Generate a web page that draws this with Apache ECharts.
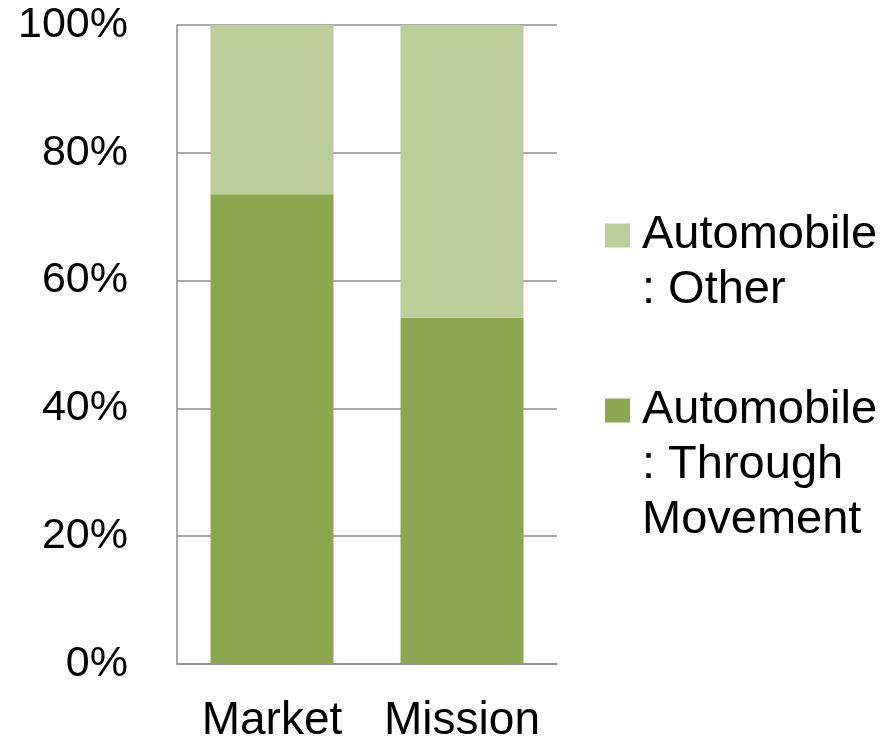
<!DOCTYPE html>
<html>
<head>
<meta charset="utf-8">
<script src="https://cdn.jsdelivr.net/npm/echarts@6/dist/echarts.min.js"></script>
<style>
  html, body { margin: 0; padding: 0; background: #fff; }
  #main { width: 895px; height: 742px; }
</style>
</head>
<body>
<div id="main"></div>
<script>
// data (share of trips, %)
var categories = ['Market', 'Mission']
var throughMovement = [73.5, 54.2]
var other = [26.5, 45.8]
var seriesNames = ['Automobile: Through Movement', 'Automobile: Other']
var legendLines = {
  'Automobile: Other': ['Automobile', ': Other'],
  'Automobile: Through Movement': ['Automobile', ': Through', 'Movement']
}

var FONT = '"Liberation Sans", Arial, sans-serif'
var LINE_H = 55

var myChart = echarts.init(document.getElementById('main'))

// the legend square is centred on the text block, so blank lines are put
// above the text to bring the first line level with the square
function legendFor(name, top) {
  return {
    orient: 'vertical',
    left: 605,
    top: top,
    padding: 0,
    itemWidth: 25,
    itemHeight: 24,
    icon: 'rect',
    selectedMode: false,
    data: [name],
    formatter: function(n) {
      var lines = legendLines[n]
      var out = []
      for (var i = 0; i < lines.length - 1; i++) {
        out.push('{t|\u00a0}')
      }
      lines.forEach(function(l) {
        out.push('{t|' + l + '}')
      })
      return out.join('\n')
    },
    textStyle: {
      fontFamily: FONT,
      fontSize: 47,
      color: '#000',
      rich: {
        t: {
          fontFamily: FONT,
          fontSize: 47,
          lineHeight: LINE_H,
          color: '#000',
          padding: [0, 0, 0, 7]
        }
      }
    }
  }
}

var option = {
  backgroundColor: '#fff',
  animation: false,
  grid: {
    left: 177,
    right: 338,
    top: 25,
    bottom: 78,
    containLabel: false,
    outerBoundsMode: 'none'
  },
  legend: [
    legendFor(seriesNames[1], 157),
    legendFor(seriesNames[0], 277)
  ],
  xAxis: {
    type: 'category',
    data: categories,
    axisTick: { show: false },
    axisLine: { lineStyle: { color: '#8c8c8c', width: 1.5 } },
    axisLabel: {
      interval: 0,
      margin: 34,
      fontFamily: FONT,
      fontSize: 46,
      color: '#000'
    }
  },
  yAxis: {
    type: 'value',
    min: 0,
    max: 100,
    interval: 20,
    axisLine: { show: true, lineStyle: { color: '#8c8c8c', width: 1.5 } },
    axisTick: { show: false },
    splitLine: { lineStyle: { color: '#8c8c8c', width: 1.5 } },
    axisLabel: {
      margin: 49,
      formatter: '{value}%',
      fontFamily: FONT,
      fontSize: 43,
      color: '#000'
    }
  },
  series: [{
    name: seriesNames[0],
    type: 'bar',
    stack: 'total',
    barWidth: 123,
    data: throughMovement,
    itemStyle: { color: '#8ba64f' }
  }, {
    name: seriesNames[1],
    type: 'bar',
    stack: 'total',
    barWidth: 123,
    data: other,
    itemStyle: { color: '#bbce99' }
  }]
}

myChart.setOption(option)
window.addEventListener('resize', function() {
  myChart.resize()
})
</script>
</body>
</html>
